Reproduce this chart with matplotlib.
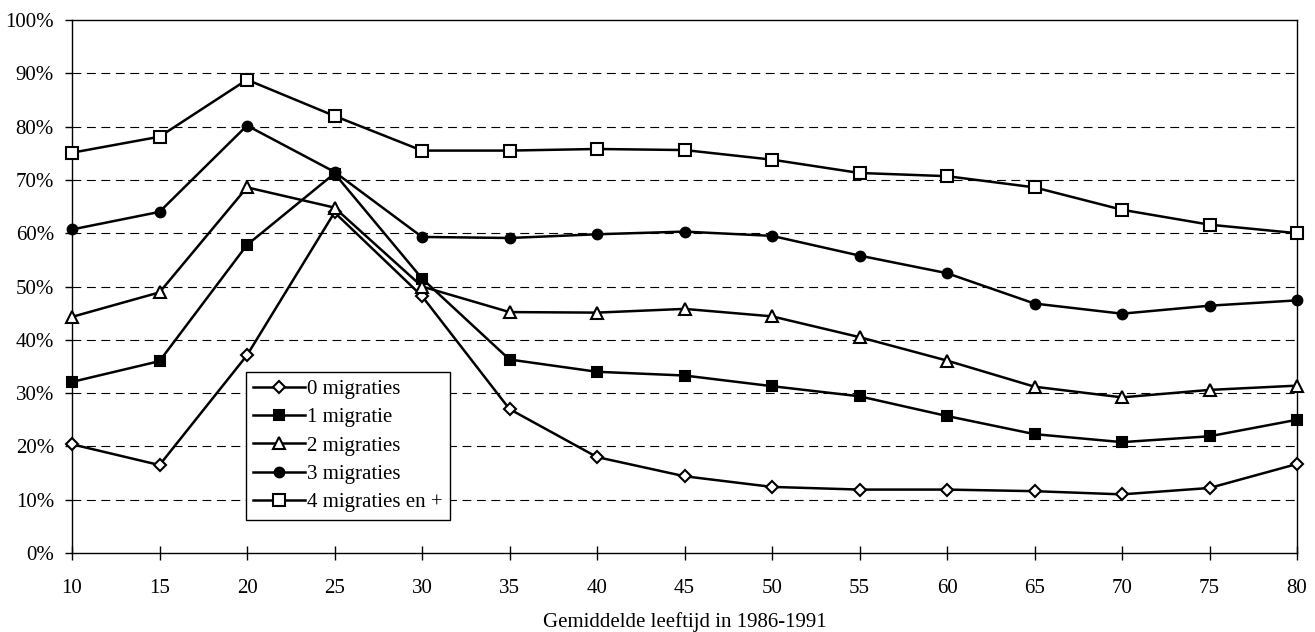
import matplotlib
matplotlib.use('Agg')
import matplotlib.pyplot as plt
from matplotlib.ticker import FuncFormatter

# leeftijdsklassen en aandeel per aantal migraties (%)
leeftijd = [10, 15, 20, 25, 30, 35, 40, 45, 50, 55, 60, 65, 70, 75, 80]
mig0 = [20.4, 16.5, 37.1, 63.9, 48.2, 27.0, 18.0, 14.4, 12.4, 11.9, 11.9, 11.6, 11.0, 12.2, 16.7]
mig1 = [32.1, 36.0, 57.8, 71.2, 51.5, 36.3, 34.0, 33.3, 31.3, 29.4, 25.7, 22.3, 20.8, 21.9, 25.0]
mig2 = [44.3, 48.9, 68.6, 64.8, 50.0, 45.2, 45.1, 45.8, 44.4, 40.5, 36.1, 31.2, 29.2, 30.6, 31.4]
mig3 = [60.7, 64.0, 80.2, 71.5, 59.3, 59.1, 59.8, 60.3, 59.5, 55.8, 52.5, 46.8, 44.9, 46.4, 47.4]
mig4 = [75.1, 78.1, 88.8, 82.0, 75.5, 75.5, 75.8, 75.6, 73.8, 71.3, 70.7, 68.6, 64.4, 61.6, 60.0]
labels = ['0 migraties', '1 migratie', '2 migraties', '3 migraties', '4 migraties en +']
xticks = leeftijd
yticks = list(range(0, 101, 10))

plt.rcParams['font.family'] = ['Liberation Serif', 'DejaVu Serif']
plt.rcParams['font.size'] = 15

fig = plt.figure(figsize=(13.15, 6.32), dpi=100)
ax = fig.add_axes([72 / 1315, 1 - 553 / 632, (1297 - 72) / 1315, (553 - 20) / 632])

stijlen = [
    dict(marker='D', ms=6, mfc='white'),
    dict(marker='s', ms=7, mfc='black'),
    dict(marker='^', ms=8, mfc='white'),
    dict(marker='o', ms=7, mfc='black'),
    dict(marker='s', ms=8, mfc='white'),
]
for reeks, lab, st in zip([mig0, mig1, mig2, mig3, mig4], labels, stijlen):
    ax.plot(leeftijd, reeks, color='black', lw=1.8, mec='black', mew=1.5,
            label=lab, clip_on=False, zorder=3, **st)

ax.set_xlim(10, 80)
ax.set_ylim(0, 100)
ax.set_xticks(xticks)
ax.set_yticks(yticks)
ax.yaxis.set_major_formatter(FuncFormatter(lambda v, p: f'{int(v)}%'))

# gestippelde hulplijnen
for y in yticks[1:-1]:
    ax.axhline(y, color='black', lw=0.8, ls=(0, (8, 5)), zorder=1)

for s in ax.spines.values():
    s.set_linewidth(1.0)
ax.tick_params(axis='x', direction='inout', length=10, width=1, pad=14)
ax.tick_params(axis='y', direction='out', length=5, width=1, pad=8)

ax.set_xlabel('Gemiddelde leeftijd in 1986-1991', labelpad=10)

leg = ax.legend(loc='upper left', bbox_to_anchor=((246 - 72) / 1225, (553 - 372) / 533),
                frameon=True, fancybox=False, edgecolor='black', framealpha=1,
                borderaxespad=0, handlelength=2.5, handletextpad=0.1,
                labelspacing=0.42, borderpad=0.35, fontsize=15)
leg.get_frame().set_linewidth(1.0)

fig.savefig('out.png', dpi=100)
